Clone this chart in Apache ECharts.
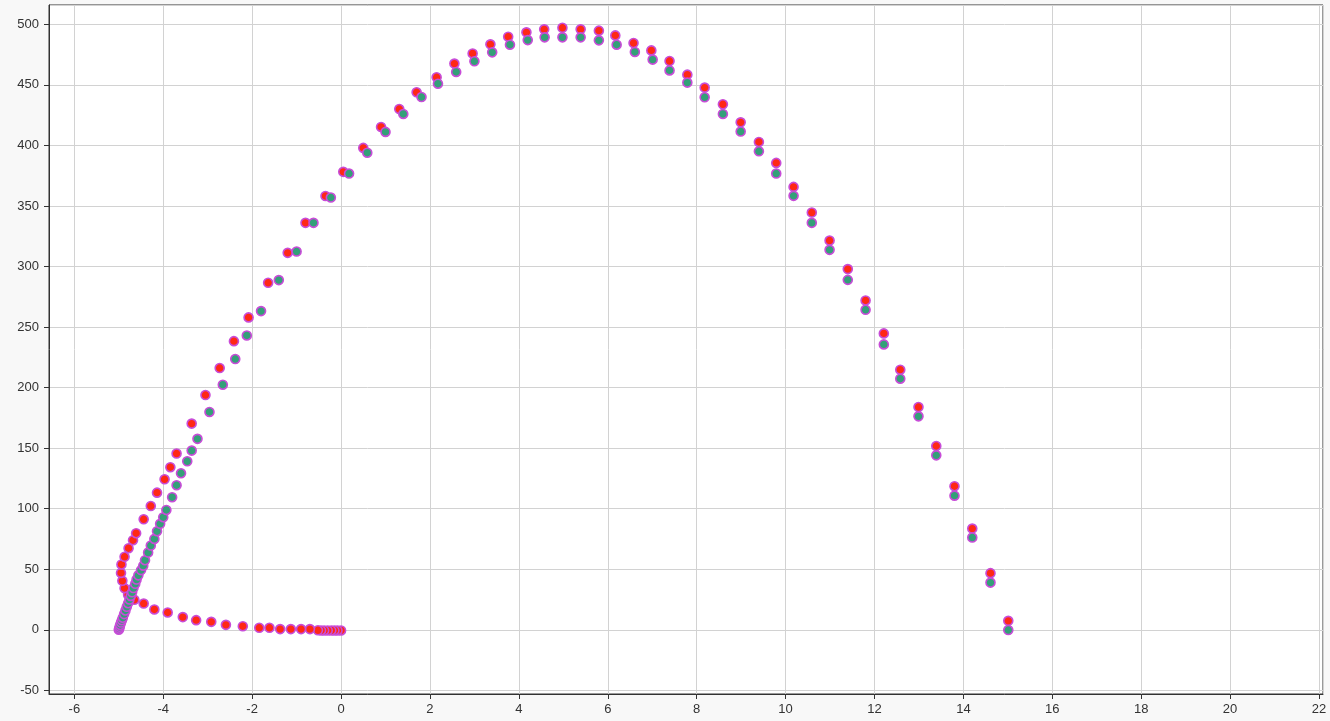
<!DOCTYPE html>
<html>
<head>
<meta charset="utf-8">
<script src="https://cdn.jsdelivr.net/npm/echarts@6/dist/echarts.min.js"></script>
<style>
  html, body { margin: 0; padding: 0; background: #f8f8f8; }
  #chart { width: 1330px; height: 721px; }
</style>
</head>
<body>
<div id="chart"></div>
<script>
// red series
const redX = [0.00, -0.08, -0.15, -0.22, -0.30, -0.38, -0.45, -0.52, -0.70, -0.90, -1.13, -1.37, -1.61, -1.84,
  -2.21, -2.59, -2.92, -3.26, -3.56, -3.90, -4.20, -4.44, -4.65, -4.79, -4.87, -4.92, -4.95, -4.94, -4.87,
  -4.78, -4.68, -4.61, -4.44, -4.28, -4.14, -3.97, -3.84, -3.70, -3.36, -3.05, -2.73, -2.41, -2.08, -1.64,
  -1.20, -0.80, -0.35, 0.05, 0.50, 0.90, 1.31, 1.70, 2.15, 2.55, 2.96, 3.36, 3.76, 4.17, 4.57, 4.98, 5.39,
  5.80, 6.17, 6.58, 6.98, 7.39, 7.79, 8.18, 8.59, 8.99, 9.40, 9.79, 10.18, 10.59, 10.99, 11.40, 11.80, 12.21,
  12.58, 12.99, 13.39, 13.80, 14.20, 14.61, 15.01];
const redY = [-0.5, -0.5, -0.5, -0.5, -0.5, -0.5, -0.5, -0.4, 0.6, 0.6, 0.6, 0.6, 1.7, 1.7,
  3.0, 4.1, 6.6, 8.0, 10.5, 14.3, 16.8, 21.7, 24.8, 28.9, 34.4, 40.5, 47.0, 54.0, 60.3,
  67.4, 74.0, 79.8, 91.3, 102.2, 113.3, 124.3, 134.3, 145.6, 170.3, 193.9, 216.2, 238.4, 258.0, 286.6,
  311.3, 336.1, 358.3, 378.2, 398.0, 415.3, 430.1, 443.9, 456.3, 467.6, 476.0, 483.5, 489.8, 493.4, 495.9, 497.2, 495.9,
  494.8, 490.9, 484.6, 478.5, 469.7, 458.5, 447.8, 434.0, 419.1, 402.9, 385.6, 365.8, 344.6, 321.5, 297.9, 272.0, 244.8,
  214.8, 184.0, 151.8, 118.6, 83.6, 46.8, 7.4];

// green series
const greenX = [-5.00, -4.99, -4.98, -4.97, -4.95, -4.93, -4.91, -4.88, -4.85, -4.82, -4.79, -4.76, -4.73, -4.70,
  -4.67, -4.63, -4.60, -4.56, -4.50, -4.45, -4.41, -4.34, -4.28, -4.20, -4.14, -4.07, -4.00, -3.93, -3.80,
  -3.70, -3.60, -3.46, -3.36, -3.23, -2.96, -2.66, -2.38, -2.12, -1.80, -1.40, -1.00, -0.62, -0.23, 0.18,
  0.59, 1.00, 1.40, 1.81, 2.18, 2.59, 3.00, 3.40, 3.80, 4.20, 4.58, 4.98, 5.39, 5.80, 6.20, 6.61, 7.01,
  7.39, 7.79, 8.18, 8.59, 8.99, 9.40, 9.79, 10.18, 10.59, 10.99, 11.40, 11.80, 12.21, 12.58, 12.99, 13.39,
  13.80, 14.20, 14.61, 15.01];
const greenY = [0.0, 1.0, 2.5, 4.0, 6.0, 8.0, 10.0, 13.0, 16.0, 19.0, 22.0, 25.0, 28.0, 31.0,
  34.5, 38.0, 41.5, 45.0, 49.3, 53.0, 57.5, 63.8, 69.6, 75.1, 81.4, 87.5, 93.0, 99.0, 109.5,
  119.4, 129.3, 139.2, 148.0, 157.7, 179.9, 202.4, 223.6, 243.1, 263.2, 288.8, 312.4, 336.1, 357.0, 376.8,
  394.0, 411.2, 426.0, 440.0, 451.0, 460.7, 469.5, 476.9, 483.2, 487.0, 489.3, 489.3, 489.3, 486.8, 483.2, 477.2, 470.9,
  462.0, 451.9, 439.8, 426.0, 411.5, 395.2, 376.8, 358.4, 336.1, 313.8, 289.0, 264.3, 235.7, 207.4, 176.3, 144.1,
  110.8, 76.2, 39.0, -0.2];

const xRange = [-6.57, 22.09];
const yRange = [-53, 516];

const pairs = (xs, ys) => xs.map((x, i) => [x, ys[i]]);

const chart = echarts.init(document.getElementById('chart'), null, { renderer: 'canvas' });

const axisCommon = {
  type: 'value',
  axisLine: { show: true, onZero: false, lineStyle: { color: '#333', width: 1 } },
  axisTick: { show: true, inside: false, length: 5, lineStyle: { color: '#333' } },
  axisLabel: {
    color: '#333', fontSize: 13, fontFamily: 'Liberation Sans, Arial, sans-serif',
    showMinLabel: false, showMaxLabel: false
  },
  splitLine: { show: true, lineStyle: { color: '#d2d2d2', width: 1 } }
};

chart.setOption({
  animation: false,
  backgroundColor: '#f8f8f8',
  grid: {
    left: 49, right: 7, top: 5, bottom: 27,
    show: true, backgroundColor: '#ffffff', borderColor: '#333', borderWidth: 1
  },
  xAxis: Object.assign({}, axisCommon, {
    min: xRange[0], max: xRange[1], splitNumber: 14,
    axisLabel: Object.assign({}, axisCommon.axisLabel, { margin: 9 })
  }),
  yAxis: Object.assign({}, axisCommon, {
    min: yRange[0], max: yRange[1], splitNumber: 11,
    axisLabel: Object.assign({}, axisCommon.axisLabel, { margin: 10 })
  }),
  series: [
    {
      name: 'red', type: 'scatter', symbol: 'circle', symbolSize: 9,
      itemStyle: { color: 'rgb(255,40,20)', borderColor: '#c84cd8', borderWidth: 1.6, opacity: 1 },
      data: pairs(redX, redY)
    },
    {
      name: 'green', type: 'scatter', symbol: 'circle', symbolSize: 9,
      itemStyle: { color: '#33a078', borderColor: '#c84cd8', borderWidth: 1.6, opacity: 1 },
      data: pairs(greenX, greenY)
    }
  ]
});
</script>
</body>
</html>
